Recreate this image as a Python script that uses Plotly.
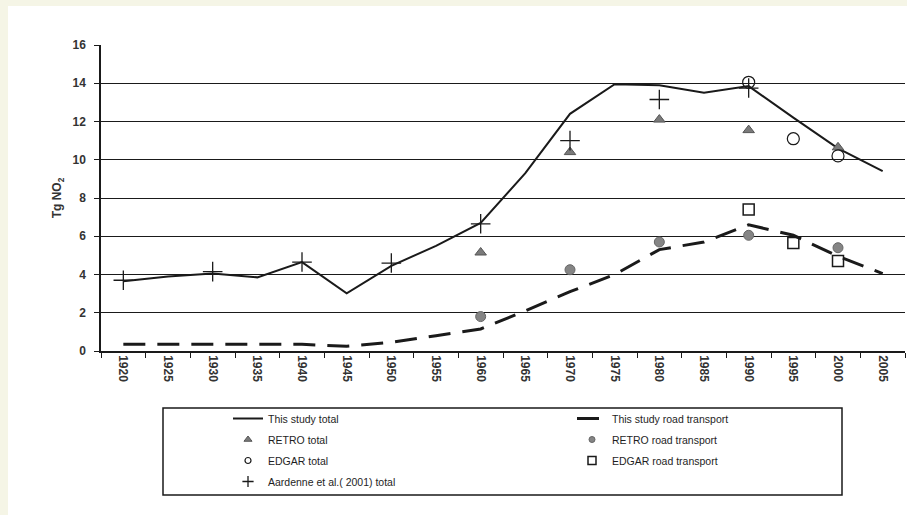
import plotly.graph_objects as go

# ---- data (Tg NO2) ----
years = [1920, 1925, 1930, 1935, 1940, 1945, 1950, 1955, 1960,
         1965, 1970, 1975, 1980, 1985, 1990, 1995, 2000, 2005]
study_total = [3.65, 3.9, 4.05, 3.85, 4.65, 3.02, 4.45, 5.5, 6.7,
               9.3, 12.4, 13.95, 13.9, 13.5, 13.85, 12.2, 10.6, 9.4]
study_road = [0.35, 0.35, 0.35, 0.35, 0.35, 0.25, 0.45, 0.8, 1.15,
              2.1, 3.1, 4.0, 5.3, 5.7, 6.6, 6.05, 4.95, 4.05]

retro_years = [1960, 1970, 1980, 1990, 2000]
retro_total = [5.15, 10.4, 12.1, 11.55, 10.65]
retro_road = [1.8, 4.25, 5.7, 6.05, 5.4]

edgar_years = [1990, 1995, 2000]
edgar_total = [14.05, 11.1, 10.2]
edgar_road = [7.4, 5.65, 4.7]

aardenne_years = [1920, 1930, 1940, 1950, 1960, 1970, 1980, 1990]
aardenne_total = [3.7, 4.15, 4.65, 4.6, 6.65, 11.0, 13.15, 13.75]

y_ticks = [0, 2, 4, 6, 8, 10, 12, 14, 16]

# ---- page geometry ----
W, H = 907, 515
ML, MR, MT, MB = 101, 2, 45, 164
PW = W - ML - MR
PH = H - MT - MB


def px_x(px):
    return (px - ML) / PW


def px_y(py):
    return (H - MB - py) / PH


def cat(v):
    return [str(y) for y in v]


FONT = "Liberation Sans, Arial, sans-serif"
INK = "#1a1a1a"

retro_total_mk = dict(symbol="triangle-up", color="#7a7a7a",
                      line=dict(color="#555555", width=1))
edgar_total_mk = dict(symbol="circle-open", color=INK, line=dict(width=1.2))
aardenne_mk = dict(symbol="cross-thin", color=INK, line=dict(color=INK, width=1.3))
retro_road_mk = dict(symbol="circle", color="#858585",
                     line=dict(color="#666666", width=1))
edgar_road_mk = dict(symbol="square-open", color=INK, line=dict(width=1.5))

fig = go.Figure()

# lines (also serve as their own legend entries)
fig.add_trace(go.Scatter(
    x=cat(years), y=study_total, mode="lines", name="This study total",
    line=dict(color=INK, width=2), legend="legend", legendgroup="a"))
fig.add_trace(go.Scatter(
    x=cat(years), y=study_road, mode="lines", name="This study road transport",
    line=dict(color=INK, width=3, dash="22px,12px"), legend="legend2", legendgroup="b"))

# point series: (years, values, name, marker, plot size, key size, legend, group)
point_series = [
    (retro_years, retro_total, "RETRO total", retro_total_mk, 10, 7, "legend", "c"),
    (edgar_years, edgar_total, "EDGAR total", edgar_total_mk, 12, 6, "legend", "d"),
    (aardenne_years, aardenne_total, "Aardenne et al.( 2001) total", aardenne_mk, 14, 8, "legend", "e"),
    (retro_years, retro_road, "RETRO road transport", retro_road_mk, 10, 6, "legend2", "f"),
    (edgar_years, edgar_road, "EDGAR road transport", edgar_road_mk, 11, 8, "legend2", "g"),
]
for xs, ys, name, mk, size, _, _, _ in point_series:
    fig.add_trace(go.Scatter(
        x=cat(xs), y=ys, mode="markers", name=name,
        marker=dict(size=size, **mk), showlegend=False))

# legend keys with the smaller symbols used in the key box
for _, _, name, mk, _, lsize, leg, grp in point_series:
    fig.add_trace(go.Scatter(
        x=[None], y=[None], mode="markers", name=name,
        marker=dict(size=lsize, **mk), legend=leg, legendgroup=grp))

legend_common = dict(
    orientation="v", traceorder="grouped", tracegroupgap=2,
    bgcolor="rgba(0,0,0,0)", borderwidth=0,
    font=dict(family=FONT, size=10.5, color="#1e1e1e"),
    xanchor="left", yanchor="top",
)

cream = "#f5f5e6"
shapes = [
    # cream frame along the top and left edges of the page
    dict(type="rect", xref="paper", yref="paper", layer="below",
         x0=px_x(0), x1=px_x(W), y0=px_y(6), y1=px_y(0),
         fillcolor=cream, line=dict(width=0)),
    dict(type="rect", xref="paper", yref="paper", layer="below",
         x0=px_x(0), x1=px_x(8), y0=px_y(H), y1=px_y(0),
         fillcolor=cream, line=dict(width=0)),
    # legend frame
    dict(type="rect", xref="paper", yref="paper",
         x0=px_x(163), x1=px_x(842), y0=px_y(495), y1=px_y(408),
         fillcolor="rgba(0,0,0,0)", line=dict(color=INK, width=1.5)),
]

fig.update_layout(
    width=W, height=H,
    margin=dict(l=ML, r=MR, t=MT, b=MB, autoexpand=False),
    paper_bgcolor="white", plot_bgcolor="white",
    font=dict(family=FONT, color=INK),
    showlegend=True,
    legend=dict(x=px_x(228), y=px_y(404), **legend_common),
    legend2=dict(x=px_x(572), y=px_y(404), **legend_common),
    shapes=shapes,
    xaxis=dict(
        type="category", categoryorder="array", categoryarray=cat(years),
        range=[-0.5, len(years) - 0.5],
        tickson="boundaries", ticks="outside", ticklen=5, tickwidth=1.2,
        tickcolor=INK, showgrid=False, showline=True, linecolor=INK,
        linewidth=1.5, tickangle=90, zeroline=False,
        tickfont=dict(family=FONT, size=12, color="#333333", weight="bold"),
    ),
    yaxis=dict(
        range=[0, 16], tickvals=y_ticks, ticks="outside", ticklen=5,
        tickwidth=1.2, tickcolor=INK, showline=True, linecolor=INK,
        linewidth=1.5, showgrid=True, gridcolor=INK, gridwidth=1.4,
        zeroline=False, ticklabelstandoff=6,
        tickfont=dict(family=FONT, size=12, color="#333333", weight="bold"),
        title=dict(text="Tg NO<sub>2</sub>", standoff=8,
                   font=dict(family=FONT, size=12, color="#333333", weight="bold")),
    ),
)

fig.write_html("out.html")
